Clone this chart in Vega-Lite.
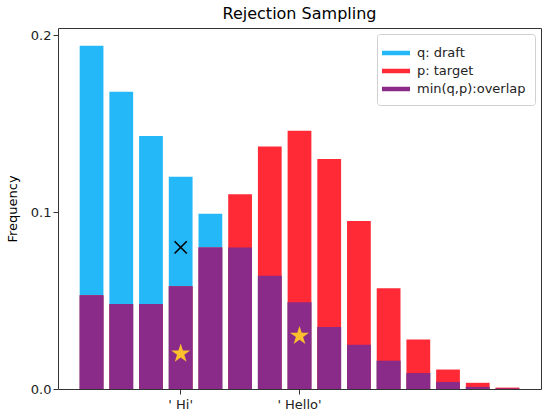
{
  "$schema": "https://vega.github.io/schema/vega-lite/v6.json",
  "autosize": {"type": "none"},
  "padding": {"left": 58, "top": 28, "right": 1, "bottom": 25},
  "width": 483,
  "height": 361,
  "title": {"text": "Rejection Sampling", "fontSize": 16, "fontWeight": "normal", "font": "DejaVu Sans", "color": "#000", "offset": 6},
  "config": {
    "font": "DejaVu Sans",
    "view": {"stroke": "#333", "strokeWidth": 1},
    "axis": {"labelFont": "DejaVu Sans", "titleFont": "DejaVu Sans", "labelColor": "#222", "titleColor": "#000", "tickColor": "#333", "grid": false, "domain": false}
  },
  "datasets": {
    "probs": [
      {"idx": 0, "q": 0.194, "p": 0.053, "m": 0.053},
      {"idx": 1, "q": 0.168, "p": 0.048, "m": 0.048},
      {"idx": 2, "q": 0.143, "p": 0.048, "m": 0.048},
      {"idx": 3, "q": 0.120, "p": 0.058, "m": 0.058},
      {"idx": 4, "q": 0.099, "p": 0.080, "m": 0.080},
      {"idx": 5, "q": 0.080, "p": 0.110, "m": 0.080},
      {"idx": 6, "q": 0.064, "p": 0.137, "m": 0.064},
      {"idx": 7, "q": 0.049, "p": 0.146, "m": 0.049},
      {"idx": 8, "q": 0.035, "p": 0.130, "m": 0.035},
      {"idx": 9, "q": 0.025, "p": 0.095, "m": 0.025},
      {"idx": 10, "q": 0.016, "p": 0.057, "m": 0.016},
      {"idx": 11, "q": 0.009, "p": 0.028, "m": 0.009},
      {"idx": 12, "q": 0.004, "p": 0.011, "m": 0.004},
      {"idx": 13, "q": 0.0012, "p": 0.0035, "m": 0.0012},
      {"idx": 14, "q": 0.0003, "p": 0.0008, "m": 0.0003}
    ],
    "rejected": [{"idx": 3, "y": 0.08}],
    "accepted": [{"idx": 3, "y": 0.02}, {"idx": 7, "y": 0.03}]
  },
  "encoding": {
    "x": {
      "field": "idx",
      "type": "ordinal",
      "sort": null,
      "scale": {"paddingInner": 0.2, "paddingOuter": 0.73},
      "axis": {
        "title": null,
        "values": [3, 7],
        "labelAngle": 0,
        "labelFontSize": 13,
        "labelPadding": 4,
        "tickSize": 5,
        "labelExpr": "datum.value == 3 ? \"' Hi'\" : \"' Hello'\""
      }
    }
  },
  "layer": [
    {
      "data": {"name": "probs"},
      "mark": {"type": "bar"},
      "encoding": {
        "y": {
          "field": "q",
          "type": "quantitative",
          "scale": {"domain": [0, 0.204], "nice": false},
          "axis": {"title": "Frequency", "titleFontSize": 13, "titleFontWeight": "normal", "titlePadding": 11, "labelFontSize": 13, "values": [0, 0.1, 0.2], "format": ".1f", "tickSize": 5}
        },
        "color": {
          "datum": "q: draft",
          "scale": {"domain": ["q: draft", "p: target", "min(q,p):overlap"], "range": ["#24b8f8", "#ff2a36", "#8a2b8a"]},
          "legend": {
            "title": null,
            "orient": "top-right",
            "offset": 6,
            "symbolType": "M-1.4,-0.225L1.4,-0.225L1.4,0.225L-1.4,0.225Z",
            "symbolSize": 400,
            "symbolStrokeWidth": 0,
            "labelFontSize": 13,
            "labelOffset": 11,
            "labelColor": "#222",
            "rowPadding": 1,
            "strokeColor": "#d0d0d0",
            "fillColor": "#fff",
            "cornerRadius": 3,
            "padding": 9
          }
        }
      }
    },
    {
      "data": {"name": "probs"},
      "mark": {"type": "bar"},
      "encoding": {
        "y": {"field": "p", "type": "quantitative"},
        "color": {"datum": "p: target"}
      }
    },
    {
      "data": {"name": "probs"},
      "mark": {"type": "bar"},
      "encoding": {
        "y": {"field": "m", "type": "quantitative"},
        "color": {"datum": "min(q,p):overlap"}
      }
    },
    {
      "data": {"name": "rejected"},
      "mark": {"type": "point", "shape": "M-1,-1L1,1M-1,1L1,-1", "size": 150, "filled": false, "stroke": "#000", "strokeWidth": 1.6, "opacity": 1},
      "encoding": {
        "y": {"field": "y", "type": "quantitative"}
      }
    },
    {
      "data": {"name": "accepted"},
      "mark": {"type": "point", "shape": "M0,-1L0.225,-0.309L0.951,-0.309L0.363,0.118L0.588,0.809L0,0.382L-0.588,0.809L-0.363,0.118L-0.951,-0.309L-0.225,-0.309Z", "size": 400, "filled": true, "fill": "#fbbf2e", "strokeWidth": 0, "opacity": 1},
      "encoding": {
        "y": {"field": "y", "type": "quantitative"}
      }
    }
  ],
  "resolve": {"scale": {"color": "shared"}}
}
